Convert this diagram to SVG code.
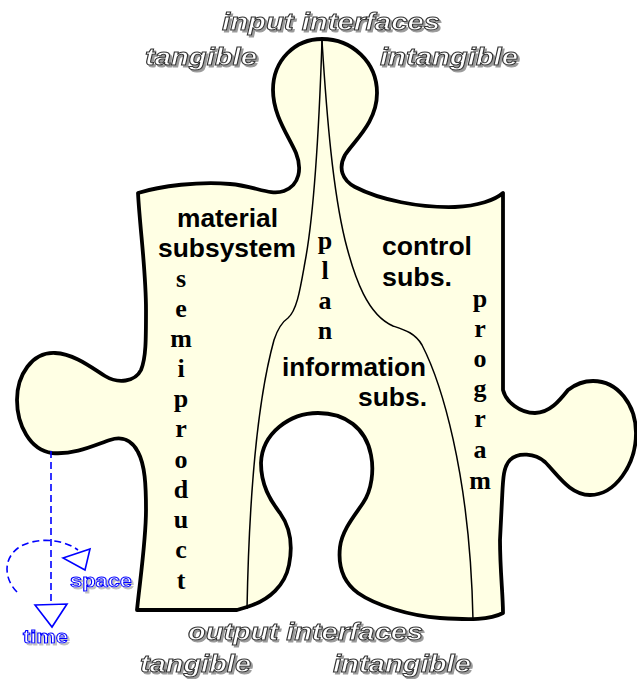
<svg xmlns="http://www.w3.org/2000/svg" width="637" height="679" viewBox="0 0 637 679">
<defs>
<filter id="sh" x="-5%" y="-20%" width="115%" height="160%">
<feOffset in="SourceAlpha" dx="2" dy="2" result="o"/>
<feFlood flood-color="#9a9a9a"/>
<feComposite in2="o" operator="in" result="s"/>
<feMerge><feMergeNode in="s"/><feMergeNode in="SourceGraphic"/></feMerge>
</filter>
<filter id="shb" x="-5%" y="-20%" width="115%" height="160%">
<feOffset in="SourceAlpha" dx="1.5" dy="1.5" result="o"/>
<feFlood flood-color="#c0c0c0"/>
<feComposite in2="o" operator="in" result="s"/>
<feMerge><feMergeNode in="s"/><feMergeNode in="SourceGraphic"/></feMerge>
</filter>
<style>
.piece{fill:#FFFFE4;stroke:#000;stroke-width:3.8;stroke-linejoin:round}
.div{fill:none;stroke:#000;stroke-width:1.5}
.ol{font-family:"Liberation Sans",Arial,sans-serif;font-weight:bold;font-style:italic;font-size:24px;fill:#fff;stroke:#333;stroke-width:1}
.lbl{font-family:"Liberation Sans",Arial,sans-serif;font-weight:bold;font-size:25px;fill:#000}
.vert{font-family:"Liberation Serif","Times New Roman",serif;font-weight:bold;font-size:26px;fill:#000;text-anchor:middle}
.blue{fill:none;stroke:#0000FF;stroke-width:1.6}
.dash{stroke-dasharray:7,4}
.bt{font-family:"Liberation Sans",Arial,sans-serif;font-weight:bold;font-size:18px;fill:#fff;stroke:#0000FF;stroke-width:1}
</style>
</defs>
<rect width="637" height="679" fill="#fff"/>
<g id="puzzle">
<path class="piece" d="M138,193 C160,186 200,181 230,184 C255,186 270,196 284,191 C300,185 302,168 296,153 C288,135 273,115 273,90 C273,60 295,39 322,39 C352,39 377,62 377,93 C377,122 355,140 345,155 C338,168 342,180 355,187 C380,200 420,208 455,207 C478,206 495,200 503,193 L503,390 C506,402 520,413 535,413 C550,413 560,400 568,390 C577,383 585,381 593,381 C618,381 636,405 636,433 C636,465 615,495 590,495 C570,495 558,475 545,462 C535,453 518,452 510,460 C503,467 503,480 502,500 L500,540 C500,570 503,595 503,613 C490,620 470,620 440,618 C410,616 375,605 358,593 C343,582 338,565 340,547 C342,530 355,515 363,503 C372,490 374,470 371,455 C366,428 345,413 318,413 C290,413 262,433 261,463 C261,485 270,500 280,513 C290,527 293,545 289,565 C285,585 270,600 247,607 L237,610 L137,610 C140,580 146,540 146,510 C146,485 145,465 138,452 C132,440 122,436 110,440 C95,445 75,455 52,453 C30,450 17,425 17,400 C17,375 32,352 55,353 C75,354 92,368 105,376 C118,384 135,382 141,370 C146,358 146,340 146,310 C146,270 140,230 138,193 Z"/>
<path class="div" d="M322,41 C319,130 313,220 305,262 C300,290 297,310 288,318 C282,322 278,328 274,340 C263,380 250,450 247,609"/>
<path class="div" d="M322,41 C327,120 333,190 345,240 C355,280 368,315 393,326 C405,330 415,333 422,345 C440,380 470,470 473,620"/>
</g>
<g id="input-interfaces" filter="url(#sh)">
<text class="ol" x="222" y="30" textLength="218" lengthAdjust="spacingAndGlyphs">input interfaces</text>
<text class="ol" x="145" y="65" textLength="112" lengthAdjust="spacingAndGlyphs">tangible</text>
<text class="ol" x="380" y="65" textLength="138" lengthAdjust="spacingAndGlyphs">intangible</text>
</g>
<g id="output-interfaces" filter="url(#sh)">
<text class="ol" x="188" y="640" textLength="235" lengthAdjust="spacingAndGlyphs">output interfaces</text>
<text class="ol" x="140" y="672" textLength="111" lengthAdjust="spacingAndGlyphs">tangible</text>
<text class="ol" x="333" y="672" textLength="138" lengthAdjust="spacingAndGlyphs">intangible</text>
</g>
<g id="material-subsystem">
<text class="lbl" x="177" y="227" textLength="101" lengthAdjust="spacingAndGlyphs">material</text>
<text class="lbl" x="158" y="257" textLength="138" lengthAdjust="spacingAndGlyphs">subsystem</text>
</g>
<g id="control-subs">
<text class="lbl" x="382" y="255" textLength="90" lengthAdjust="spacingAndGlyphs">control</text>
<text class="lbl" x="382" y="286" textLength="70" lengthAdjust="spacingAndGlyphs">subs.</text>
</g>
<g id="information-subs">
<text class="lbl" x="282" y="376" textLength="144" lengthAdjust="spacingAndGlyphs">information</text>
<text class="lbl" x="358" y="406" textLength="69" lengthAdjust="spacingAndGlyphs">subs.</text>
</g>
<g id="semiproduct">
<text class="vert" x="181" y="287">s</text>
<text class="vert" x="181" y="317">e</text>
<text class="vert" x="181" y="347">m</text>
<text class="vert" x="181" y="377">i</text>
<text class="vert" x="181" y="407">p</text>
<text class="vert" x="181" y="437">r</text>
<text class="vert" x="181" y="468">o</text>
<text class="vert" x="181" y="498">d</text>
<text class="vert" x="181" y="528">u</text>
<text class="vert" x="181" y="558">c</text>
<text class="vert" x="181" y="589">t</text>
</g>
<g id="plan">
<text class="vert" x="325" y="249">p</text>
<text class="vert" x="325" y="279">l</text>
<text class="vert" x="325" y="309">a</text>
<text class="vert" x="325" y="339">n</text>
</g>
<g id="program">
<text class="vert" x="480" y="307">p</text>
<text class="vert" x="480" y="337">r</text>
<text class="vert" x="480" y="367">o</text>
<text class="vert" x="480" y="397">g</text>
<text class="vert" x="480" y="427">r</text>
<text class="vert" x="480" y="458">a</text>
<text class="vert" x="480" y="489">m</text>
</g>
<g id="connectors">
<path class="blue dash" d="M51,451 L51,604"/>
<polygon class="blue" points="35,605 67,604 52,627" fill="#fff"/>
<path class="blue dash" d="M17,592 C5,580 2,560 18,548 C32,538 60,537 78,550"/>
<polygon class="blue" points="63,558 90,549 85,570" fill="#fff"/>
</g>
<g id="space-time-labels" filter="url(#shb)">
<text class="bt" x="70" y="587" textLength="62" lengthAdjust="spacingAndGlyphs">space</text>
<text class="bt" x="23" y="643" textLength="45" lengthAdjust="spacingAndGlyphs">time</text>
</g>
</svg>
